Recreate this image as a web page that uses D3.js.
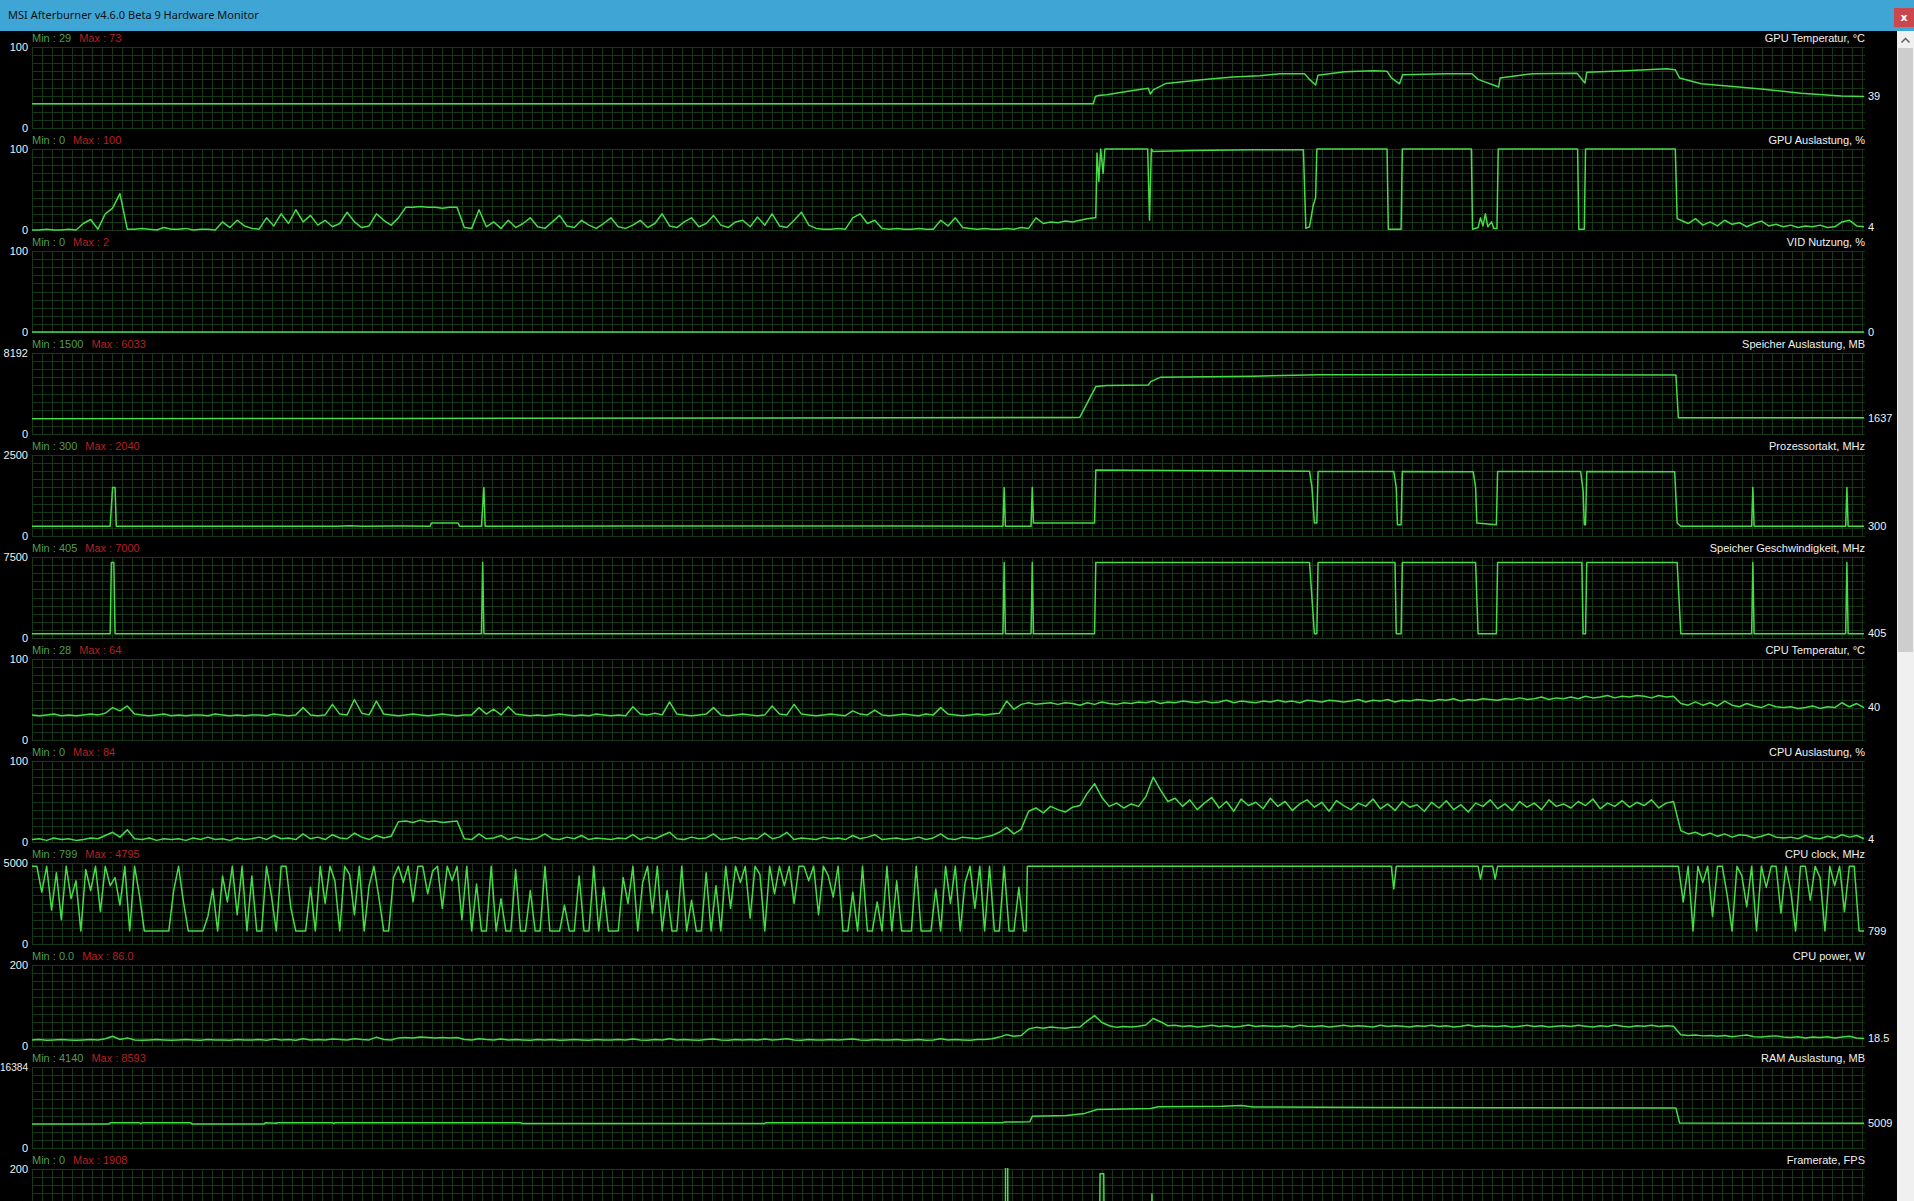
<!DOCTYPE html>
<html>
<head>
<meta charset="utf-8">
<script src="https://cdn.jsdelivr.net/npm/d3@7"></script>
<style>
  body { margin: 0; background: #000; overflow: hidden; }
  svg { display: block; }
  text { font-family: "Liberation Sans", Arial, sans-serif; }
</style>
</head>
<body>
<div id="chart"></div>
<script>
// window + graph geometry
var W = 1914, H = 1201;
var plotLeft = 32, plotRight = 1864;
var firstTop = 47, panelStep = 102, panelHeight = 81;
var lineColor = "#46dc46", gridColor = "#163816";

// time axis, in samples across the graph width
var tDomain = [0, 1500];

var windowTitle = "MSI Afterburner v4.6.0 Beta 9 Hardware Monitor";

var panelTitles = ["GPU Temperatur, °C", "GPU Auslastung, %", "VID Nutzung, %", "Speicher Auslastung, MB",
  "Prozessortakt, MHz", "Speicher Geschwindigkeit, MHz", "CPU Temperatur, °C", "CPU Auslastung, %",
  "CPU clock, MHz", "CPU power, W", "RAM Auslastung, MB", "Framerate, FPS"];
var panelMaxima = [100, 100, 100, 8192, 2500, 7500, 100, 100, 5000, 200, 16384, 200];
var minLabels = ["29", "0", "0", "1500", "300", "405", "28", "0", "799", "0.0", "4140", "0"];
var maxLabels = ["73", "100", "2", "6033", "2040", "7000", "64", "84", "4795", "86.0", "8593", "1908"];
var currentLabels = ["39", "4", "0", "1637", "300", "405", "40", "4", "799", "18.5", "5009", ""];

// ---- series given as [t, value] break points ----
var gpuTemp = [[0,30],[200,30],[869,30],[870.7,39],[873,40],[880,41],[900,46],[914,49],[915.7,42],[918,47],
  [928.5,55],[957.8,59.6],[983.3,63],[1005.3,64.5],[1021.8,67],[1041.9,67],[1046,60],[1051,53],[1052.9,65],
  [1074.8,69.5],[1098.5,70.7],[1109.5,70],[1113,62],[1119.7,54.6],[1122.3,65.8],[1158.9,67],[1179,67],
  [1184,60],[1200.9,50.6],[1202,61.7],[1228.4,67],[1265,67.5],[1268,62],[1271.5,55.5],[1273,68.8],
  [1305.2,70.7],[1338.1,73],[1345.4,72],[1349,61.7],[1366.6,54.6],[1415.8,48],[1448.6,43],[1481.3,39.5],[1500,39]];

var gpuLoadHigh = [[871,15],[872,95],[873.5,60],[875,100],[877,70],[878.5,100],[913.5,100],[915,12],[916.5,100],
  [918,97],[950,98],[1000,99],[1041,99],[1043,2],[1046,4],[1049,30],[1051,40],[1052,100],[1109.5,100],[1110.5,1],
  [1121,1],[1122,100],[1178.5,100],[1179.5,1],[1184,3],[1186,15],[1188,5],[1190,20],[1192,4],[1195,10],[1197,2],
  [1199.5,2],[1200.5,100],[1265.5,100],[1266.5,1],[1271,1],[1272,100],[1345.5,100],[1347,14]];

var vidUsage = [[0,0],[1500,0]];

var memUsage = [[0,1550],[300,1580],[600,1620],[850,1680],[858,1700],[871,4800],[880,4900],[914,4950],
  [916,5300],[924,5750],[1000,5850],[1054,5980],[1200,6000],[1346,5960],[1348,1637],[1500,1637]];

var coreClock = [[0,300],[64,300],[65,900],[66,1500],[68,1500],[69,300],[250,300],[260,320],[270,300],
  [300,310],[326,300],[327,400],[349,400],[350,300],[368,300],[369,900],[370,1500],[371,300],[500,310],[700,305],
  [795,300],[796,1500],[797,300],[818,300],[819,1500],[820,400],[870,400],[871,2040],[900,2030],[1000,2010],
  [1046,2000],[1048,1500],[1050,400],[1052,400],[1053,1990],[1115,1990],[1117,1500],[1118,350],[1121,350],
  [1122,1990],[1180,1985],[1182,1500],[1183,400],[1199,350],[1200,1990],[1268,1990],[1270,1400],[1271,350],
  [1272,350],[1273,1990],[1345,1985],[1347,400],[1350,300],[1408,300],[1409,1500],[1410,300],[1485,300],
  [1486,1500],[1487,300],[1500,300]];

var memClock = [[0,405],[64,405],[65,7000],[67,7000],[68,405],[368,405],[369,7000],[370,405],[795,405],
  [796,7000],[797,405],[818,405],[819,7000],[820,405],[870,405],[871,7000],[1046,7000],[1050,405],[1052,405],
  [1053,7000],[1116,7000],[1117,405],[1121,405],[1122,7000],[1182,7000],[1184,405],[1199,405],[1200,7000],
  [1269,7000],[1270,405],[1272,405],[1273,7000],[1347,7000],[1350,405],[1408,405],[1409,7000],[1410,405],
  [1485,405],[1486,7000],[1487,405],[1500,405]];

var cpuClockFlat = [[814,799],[815,4795],[1113,4795],[1115,3400],[1117,4795],[1184,4795],[1186,4000],
  [1188,4795],[1196,4795],[1198,4000],[1200,4795],[1346,4795]];

var ramUsage = [[0,4855],[63,4855],[64,5117],[88,5117],[89,4900],[90,5117],[130,5117],[131,4855],[190,4855],
  [191,5117],[200,5000],[201,5117],[246,5117],[247,4950],[248,5117],[400,5117],[401,4980],[600,4980],
  [601,5117],[795,5117],[796,5250],[817,5300],[819,6400],[847,6550],[862,7000],[872,7800],[916,8000],
  [922,8350],[975,8450],[990,8593],[1000,8300],[1100,8200],[1200,8150],[1346,8100],[1349,5050],[1480,5000],
  [1482,5009],[1500,5009]];

var framerate = [[0,0],[797,0],[798,1908],[799,0],[874,0],[874.5,188],[877.5,188],[878,0],[916.5,0],
  [917,139],[917.5,0],[1500,0]];

// ---- series given as evenly spaced samples ----
var gpuLoadEarlyStep = 6;
var gpuLoadEarly = [0,0,1,0,0,1,0, 8,13,1,20,27,45,1, 1,2,1,0,3,1,1,2,0,1,1,0, 10,3,12,5,2,1,
  15,5,20,8,25,10,18,6,12,4,8,22,10,3,5,20,12,6,15, 28,28,29,28,28,27,28,28,
  3,2,25,4,10,2,12,3,8,15, 4,2,10,18,5,3,12,6,2,8, 15,4,2,6,12,3,8,20,5,3, 10,15,4,8,18,6,3,10,12,4,
  16,6,20,5,3,12,22,6,2,1, 1,2,1,15,20,8,12,2,1,2, 1,1,2,1,1,12,5,15,3,2, 1,2,1,1,2,1,3,2,15,8,
  10,9,11,10,12,14,15];
var gpuLoadLateStart = 1350;
var gpuLoadLate = [12,8,14,6,10,5,12,7,9,4,8,11,5,7,4,6,3,5,4,6,3,4,10,12,5,4];

var cpuSampleStep = 6;
var cpuTemp = [31,30,31,32,30,31,30,31,32,31, 33,40,36,42,32,31,30,31,32,30, 31,30,31,31,30,32,31,30,31,30,
  31,31,30,32,31,30,31,40,31,30, 31,44,32,31,50,33,31,48,32,31, 30,31,32,31,30,31,32,31,30,31,
  31,40,32,38,31,41,32,31,30,31, 30,31,32,31,30,31,30,32,31,30, 31,30,41,32,31,33,31,47,32,31,
  30,31,32,40,31,30,31,32,31,30, 31,42,32,31,44,32,31,30,31,32, 31,30,36,32,31,37,31,30,31,32,
  31,30,32,31,40,32,31,30,31,32, 31,32,33,48,38,44,46,44,45,46, 44,46,45,43,46,44,47,45,44,46,
  45,47,46,48,45,47,46,48,47,46, 48,46,47,49,46,48,47,46,48,47, 49,47,48,46,49,48,47,49,48,47,
  48,50,47,49,48,50,47,49,48,50, 49,48,50,49,51,48,50,49,51,50, 49,51,50,52,50,51,53,50,52,51,
  53,51,54,52,53,55,52,54,53,55, 54,52,55,53,54,45,43,47,43,46, 42,48,43,41,45,42,40,44,41,40,
  41,39,40,42,39,41,40,46,41,45,40];
var cpuLoad = [3,4,2,5,3,4,2,3,5,4, 8,12,6,15,4,3,5,2,4,3, 4,2,5,3,6,3,4,2,5,3, 4,6,3,8,4,5,3,10,4,6,
  3,9,5,4,11,6,3,8,5,7, 25,26,24,27,25,26,24,25,26,4, 3,10,4,5,8,3,6,4,3,5, 10,4,3,6,4,8,3,5,4,3,
  5,4,9,3,6,4,8,12,4,3, 6,4,5,10,3,4,6,3,5,4, 11,4,6,12,3,5,4,3,6,4, 5,3,8,4,6,9,3,4,5,3,
  4,6,3,5,10,4,3,6,5,4, 6,8,12,18,10,16,38,42,36,44, 40,37,43,45,60,72,55,44,48,42,
  47,44,56,80,64,50,54,44,52,40, 48,55,42,50,38,53,45,49,41,54, 44,50,39,47,52,43,49,38,51,45,
  40,48,44,53,41,47,39,50,43,46, 38,49,42,51,40,46,37,48,44,52, 41,47,39,50,43,48,40,52,44,47,
  42,50,45,53,41,48,44,51,43,49, 45,52,42,48,50,14,10,12,8,11, 7,10,6,9,8,5,7,10,6,5,
  6,4,8,5,4,7,5,9,6,8,4];
var cpuPower = [15,16,14,15,16,15,14,15,16,15, 18,24,16,20,15,14,15,16,15,14, 15,16,15,14,16,15,15,14,16,15,
  15,16,14,17,15,16,14,18,15,16, 15,17,16,15,18,16,15,22,16,15, 20,21,20,22,21,20,21,20,21,16,
  15,18,16,15,17,15,16,15,14,16, 15,16,14,15,16,15,14,16,15,15, 16,15,17,15,14,16,15,18,15,16,
  15,14,16,17,15,14,16,15,16,15, 17,15,16,18,15,14,16,15,15,16, 15,16,17,15,14,16,15,15,16,14,
  15,16,14,15,18,15,16,15,14,16, 16,18,22,28,24,26,42,46,44,47, 45,44,46,47,62,75,58,50,46,48,
  47,49,52,68,60,50,51,48,50,47, 49,51,48,50,47,49,52,48,50,49, 48,50,47,51,49,48,50,47,49,51,
  48,50,49,47,51,48,50,49,47,50, 49,51,48,50,47,49,52,48,50,49, 48,50,47,49,51,48,50,47,49,50,
  48,51,49,47,50,48,52,49,47,50, 49,51,48,50,49,28,26,27,25,26, 24,26,23,25,27,23,22,24,25,22,
  21,23,20,22,21,23,20,22,24,20,18.5];

var cpuClockStep = 4;
var cpuClockEarly = [4795,4795,3200,4795,2100,4400,1500,4795,2800,3900,799,4600,3300,4795,2000,4795,3600,4100,2400,4795,799,4795,3000,
  799,799,799,799,799,799, 3300,4795,2600, 799,799,799,799, 1700,3400,799,4200,2600,4795,1800,4795, 799,4200,799,799,
  4795,3000,799,4795,4795,2200,799, 799,799,3500,799, 4795,2500,4795,3900,799,4795,4300,1800,4795,799,3600,4795,2900,
  799,799,4100, 4795,3800,4795,2600,4795,4795,3100,4500,4795,2200,4795,3900,4795,1500,4795,
  799,3700,799,799,4795,799,2800,799,799,4600,799,799,3300,799,799,4795,799,799,799,2400,799,799,4200,799,799,
  4795,799,3500, 799,799,799, 4100,2500,4795,799,3800,4795,1900,4795,799,3300,799,
  799,4795,799,2700,799,799,4400,799,3600,799, 4795,2200,4795,3800,4795,1600,4795,4300,799,4795,3100,4795,
  3600,4795,2500,4795,4795,3900,4795,1800,4795,4200,2900,4795,799, 799,3200,799,4795,799,799,2600,799,4795,799,3900,799,
  799,799,4795,799,799,799,3400,799,4795,2500,4795,799, 3800,4795,2200,4795,799,4795,799,799, 4795,799,799,3500,799];
var cpuClockLateStart = 1348;
var cpuClockLate = [4795,2600,4795,799,4795,3800,4795,1700,4795,4795,3000,799,4795,4200,2300,4795,799,4795,3500,4795,
  4795,1900,4795,3300,799,4795,4795,2700,4795,4100,799,4795,3600,4795,2000,4795,4795,799,799];

function sampled(start, step, values) {
  return values.map(function(v, i) { return [start + i * step, v]; });
}

var panelSeries = [
  gpuTemp,
  sampled(0, gpuLoadEarlyStep, gpuLoadEarly).concat(gpuLoadHigh, sampled(gpuLoadLateStart, gpuLoadEarlyStep, gpuLoadLate)),
  vidUsage,
  memUsage,
  coreClock,
  memClock,
  sampled(0, cpuSampleStep, cpuTemp),
  sampled(0, cpuSampleStep, cpuLoad),
  sampled(0, cpuClockStep, cpuClockEarly).concat(cpuClockFlat, sampled(cpuClockLateStart, cpuClockStep, cpuClockLate)),
  sampled(0, cpuSampleStep, cpuPower),
  ramUsage,
  framerate
];

var svg = d3.select("#chart").append("svg")
  .attr("width", W)
  .attr("height", H);
svg.append("rect").attr("width", W).attr("height", H).attr("fill", "#000");

var xScale = d3.scaleLinear().domain(tDomain).range([plotLeft, plotRight]);

panelTitles.forEach(function(title, i) {
  var top = firstTop + panelStep * i;
  var bottom = top + panelHeight;
  var yScale = d3.scaleLinear().domain([0, panelMaxima[i]]).range([bottom, top]);
  var g = svg.append("g");

  // grid: a line every 10 px across, ten bands down
  var grid = g.append("g").attr("stroke", gridColor).attr("stroke-width", 1).attr("shape-rendering", "crispEdges");
  grid.selectAll("line.v")
    .data(d3.range(plotLeft, plotRight, 10))
    .enter().append("line")
    .attr("x1", function(x) { return x + 0.5; })
    .attr("x2", function(x) { return x + 0.5; })
    .attr("y1", top)
    .attr("y2", bottom + 1);
  grid.selectAll("line.h")
    .data(d3.range(0, 11))
    .enter().append("line")
    .attr("x1", plotLeft)
    .attr("x2", plotRight + 1)
    .attr("y1", function(k) { return Math.round(top + k * panelHeight / 10) + 0.5; })
    .attr("y2", function(k) { return Math.round(top + k * panelHeight / 10) + 0.5; });

  // left axis: only the range limits (the bottom one only when it is on screen)
  var ticks = bottom < H - 6 ? [0, panelMaxima[i]] : [panelMaxima[i]];
  var yAxis = d3.axisLeft(yScale).tickValues(ticks).tickSize(0).tickPadding(4).tickFormat(d3.format("d"));
  var axisG = g.append("g").attr("transform", "translate(" + plotLeft + ",0)").call(yAxis);
  axisG.select(".domain").remove();
  axisG.selectAll("text").attr("fill", "#f0f0f0").style("font-size", "11px")
    .style("font-family", "'Liberation Sans', Arial, sans-serif")
    .each(function() {
      var w = this.getComputedTextLength();
      if (w > plotLeft - 4) d3.select(this).style("font-size", (11 * (plotLeft - 4) / w).toFixed(2) + "px");
    });

  // clip so spikes stay inside the graph
  svg.append("clipPath").attr("id", "clip" + i)
    .append("rect").attr("x", plotLeft).attr("y", top - 1).attr("width", plotRight - plotLeft + 1).attr("height", panelHeight + 2);

  var line = d3.line()
    .x(function(d) { return xScale(d[0]); })
    .y(function(d) { return yScale(d[1]); });
  var data = panelSeries[i];
  g.append("path")
    .datum(data)
    .attr("clip-path", "url(#clip" + i + ")")
    .attr("fill", "none")
    .attr("stroke", lineColor)
    .attr("stroke-width", 1.5)
    .attr("stroke-linejoin", "round")
    .attr("d", line);

  // min / max header
  var labelY = top - 9;
  var minText = g.append("text")
    .attr("x", plotLeft).attr("y", labelY)
    .attr("dy", "0.35em")
    .attr("fill", "#4e9e4e").style("font-size", "11px")
    .text("Min : " + minLabels[i]);
  var minWidth = minText.node().getComputedTextLength();
  g.append("text")
    .attr("x", plotLeft + minWidth + 8).attr("y", labelY)
    .attr("dy", "0.35em")
    .attr("fill", "#b42222").style("font-size", "11px")
    .text("Max : " + maxLabels[i]);

  // graph name on the right
  g.append("text")
    .attr("x", plotRight + 1).attr("y", labelY)
    .attr("dy", "0.35em")
    .attr("text-anchor", "end")
    .attr("fill", "#f0f0f0").style("font-size", "11px")
    .text(title);

  // current value beside the end of the line
  if (currentLabels[i] !== "") {
    var last = data[data.length - 1];
    g.append("text")
      .attr("x", plotRight + 4).attr("y", yScale(last[1]))
      .attr("dy", "0.35em")
      .attr("fill", "#f0f0f0").style("font-size", "11px")
      .text(currentLabels[i]);
  }
});

// title bar
svg.append("rect").attr("x", 0).attr("y", 0).attr("width", W).attr("height", 31).attr("fill", "#3fa5d5");
var titleText = svg.append("text")
  .attr("x", 8).attr("y", 15.5)
  .attr("dy", "0.35em")
  .attr("fill", "#111")
  .style("font-family", "'Noto Sans', sans-serif")
  .style("font-size", "12px")
  .text(windowTitle);
var natural = titleText.node().getComputedTextLength();
titleText.style("font-size", (12 * 251 / natural).toFixed(2) + "px");

// close button
svg.append("rect").attr("x", 1894).attr("y", 8).attr("width", 20).attr("height", 19).attr("fill", "#c9474d");
svg.append("text")
  .attr("x", 1904).attr("y", 17.5)
  .attr("dy", "0.35em")
  .attr("text-anchor", "middle")
  .attr("fill", "#fff")
  .style("font-family", "'DejaVu Sans', sans-serif")
  .style("font-size", "11px")
  .style("font-weight", "bold")
  .text("x");

// scroll bar
svg.append("rect").attr("x", 1897).attr("y", 31).attr("width", 17).attr("height", H - 31).attr("fill", "#f0f0f0");
svg.append("path")
  .attr("d", "M1901.5,42.5 L1905.5,38.5 L1909.5,42.5")
  .attr("fill", "none").attr("stroke", "#606060").attr("stroke-width", 1.5);
svg.append("rect").attr("x", 1898).attr("y", 48).attr("width", 15).attr("height", 604).attr("fill", "#cdcdcd");
</script>
</body>
</html>
